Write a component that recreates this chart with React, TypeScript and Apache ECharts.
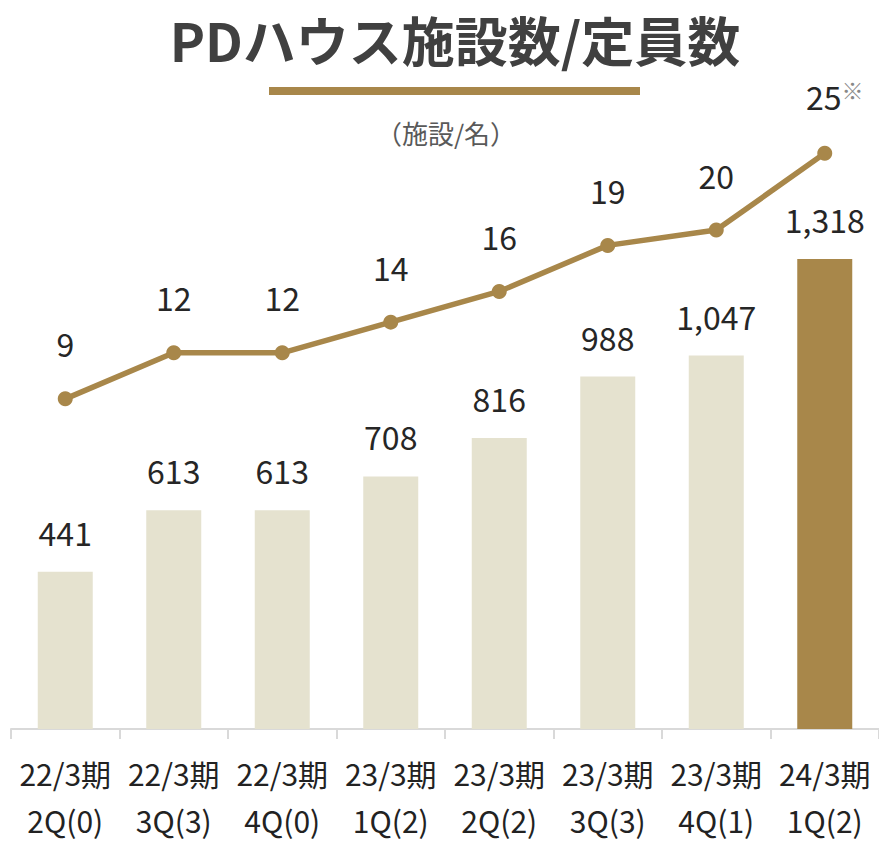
import React, { useEffect, useRef } from "react";
import * as echarts from "echarts";

const categories = [
  "22/3期\n2Q(0)",
  "22/3期\n3Q(3)",
  "22/3期\n4Q(0)",
  "23/3期\n1Q(2)",
  "23/3期\n2Q(2)",
  "23/3期\n3Q(3)",
  "23/3期\n4Q(1)",
  "24/3期\n1Q(2)",
];
const capacityValues = [441, 613, 613, 708, 816, 988, 1047, 1318];
const facilityValues = [9, 12, 12, 14, 16, 19, 20, 25];
const facilityNotes = ["", "", "", "", "", "", "", "※"];
const highlightIndex = 7;

const FONT = '"Noto Sans CJK JP", "Noto Sans", sans-serif';
const GOLD = "#A8874A";
const LIGHT = "#E5E2CF";

export default function App() {
  const ref = useRef<HTMLDivElement>(null);
  useEffect(() => {
    document.body.style.margin = "0";
    const chart = echarts.init(ref.current!, null, { renderer: "svg" });
    chart.setOption({
      animation: false,
      backgroundColor: "#ffffff",
      textStyle: { fontFamily: FONT },
      graphic: [
        {
          type: "text",
          x: 455,
          y: 12,
          style: {
            text: "PDハウス施設数/定員数",
            fontSize: 53,
            lineHeight: 54,
            fontWeight: "bold",
            fontFamily: FONT,
            fill: "#404040",
            textAlign: "center",
            textVerticalAlign: "top",
          },
        },
        {
          type: "rect",
          shape: { x: 269, y: 87, width: 371, height: 8 },
          style: { fill: GOLD },
        },
        {
          type: "text",
          x: 446,
          y: 132,
          style: {
            text: "（施設/名）",
            fontSize: 26,
            fontFamily: FONT,
            fill: "#595959",
            textAlign: "center",
            textVerticalAlign: "middle",
          },
        },
      ],
      grid: { left: 11, right: -1, top: 87, bottom: 106, containLabel: false },
      xAxis: {
        type: "category",
        data: categories,
        axisLine: { lineStyle: { color: "#d9d9d9", width: 2 } },
        axisTick: { show: true, length: 10, lineStyle: { color: "#d9d9d9", width: 2 } },
        axisLabel: {
          fontSize: 30,
          lineHeight: 47,
          color: "#222222",
          margin: 20,
          fontFamily: FONT,
          interval: 0,
        },
      },
      yAxis: [
        { type: "value", min: 0, max: 1800, show: false, splitLine: { show: false } },
        { type: "value", min: -12.51, max: 29.32, show: false, splitLine: { show: false } },
      ],
      series: [
        {
          type: "bar",
          yAxisIndex: 0,
          barWidth: 55,
          data: capacityValues.map((v, i) => ({
            value: v,
            itemStyle: { color: i === highlightIndex ? GOLD : LIGHT },
          })),
          label: {
            show: true,
            position: "top",
            distance: 24,
            fontSize: 32,
            color: "#262626",
            fontFamily: FONT,
            formatter: (p: any) => Number(p.value).toLocaleString("en-US"),
          },
        },
        {
          type: "line",
          yAxisIndex: 1,
          data: facilityValues.map((v, i) => ({
            value: v,
            label: facilityNotes[i] ? { offset: [10, 0] } : undefined,
          })),
          symbol: "circle",
          symbolSize: 15,
          lineStyle: { color: GOLD, width: 5.5 },
          itemStyle: { color: GOLD },
          label: {
            show: true,
            position: "top",
            distance: 32,
            fontSize: 32,
            color: "#262626",
            fontFamily: FONT,
            formatter: (p: any) =>
              facilityNotes[p.dataIndex]
                ? `${p.value}{sup|${facilityNotes[p.dataIndex]}}`
                : `${p.value}`,
            rich: {
              sup: {
                fontSize: 22,
                color: "#888888",
                verticalAlign: "top",
                fontFamily: FONT,
                padding: [0, 0, 14, 0],
              },
            },
          },
        },
      ],
    });
    return () => chart.dispose();
  }, []);
  return <div ref={ref} style={{ width: 879, height: 843 }} />;
}
